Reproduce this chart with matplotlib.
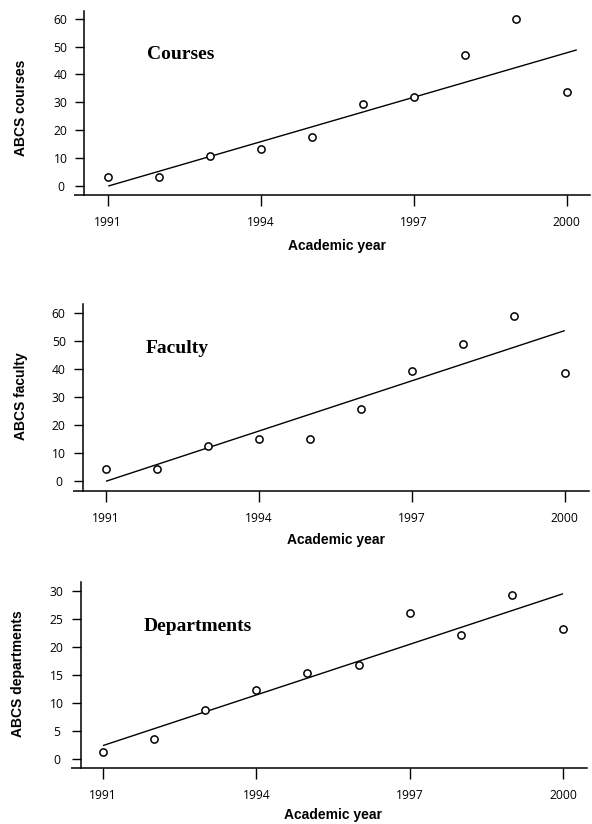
import matplotlib
matplotlib.use("Agg")
import matplotlib.pyplot as plt

# ---- data ----
years = [1991, 1992, 1993, 1994, 1995, 1996, 1997, 1998, 1999, 2000]
courses = [3.5, 3.3, 10.7, 13.3, 17.6, 29.3, 32.0, 47.1, 59.8, 33.8]
faculty = [4.2, 4.3, 12.5, 15.1, 14.9, 25.7, 39.4, 48.8, 58.8, 38.7]
departments = [1.25, 3.6, 8.8, 12.3, 15.4, 16.7, 26.1, 22.1, 29.3, 23.2]

# fitted trend lines (end points)
courses_trend_x = [1991.0, 2000.2]
courses_trend_y = [0.1, 48.8]
faculty_trend_x = [1991.0, 2000.0]
faculty_trend_y = [0.0, 53.7]
departments_trend_x = [1991.0, 2000.0]
departments_trend_y = [2.4, 29.5]

x_ticks = [1991, 1994, 1997, 2000]
courses_yticks = [0, 10, 20, 30, 40, 50, 60]
faculty_yticks = [0, 10, 20, 30, 40, 50, 60]
departments_yticks = [0, 5, 10, 15, 20, 25, 30]

panel_titles = ["Courses", "Faculty", "Departments"]
y_labels = ["ABCS courses", "ABCS faculty", "ABCS departments"]
x_label = "Academic year"

W, H = 592, 824
fig = plt.figure(figsize=(W / 100, H / 100), dpi=100)


def px_rect(left, right, top, bottom):
    return [left / W, 1 - bottom / H, (right - left) / W, (bottom - top) / H]


panels = [
    dict(rect=px_rect(84.3, 590, 11, 195), y=courses, tx=courses_trend_x, ty=courses_trend_y,
         yticks=courses_yticks, xlim=(1990.53, 2000.46), ylim=(-3.1, 62.7),
         title_pos=(1991.76, 47.3), ylab_pos=(21, 108), xlab_pos=(337, 246)),
    dict(rect=px_rect(82.5, 588.7, 304.5, 490.7), y=faculty, tx=faculty_trend_x, ty=faculty_trend_y,
         yticks=faculty_yticks, xlim=(1990.54, 2000.47), ylim=(-3.36, 63.0),
         title_pos=(1991.78, 47.2), ylab_pos=(21, 396), xlab_pos=(336, 540)),
    dict(rect=px_rect(80.5, 586.5, 582, 768.3), y=departments, tx=departments_trend_x,
         ty=departments_trend_y, yticks=departments_yticks, xlim=(1990.56, 2000.46),
         ylim=(-1.66, 31.6), title_pos=(1991.8, 23.6), ylab_pos=(18, 674), xlab_pos=(333, 815)),
]

tick_font = dict(family="Open Sans", size=8.7)

for i, p in enumerate(panels):
    ax = fig.add_axes(p["rect"])
    ax.plot(p["tx"], p["ty"], color="black", lw=1.0, solid_capstyle="butt")
    ax.plot(years, p["y"], linestyle="none", marker="o", ms=5.2, mfc="white",
            mec="black", mew=1.1)
    ax.set_xlim(*p["xlim"])
    ax.set_ylim(*p["ylim"])
    ax.set_xticks(x_ticks)
    ax.set_yticks(p["yticks"])
    ax.set_xticklabels([str(v) for v in x_ticks], fontdict=tick_font)
    ax.set_yticklabels([str(v) for v in p["yticks"]], fontdict=tick_font)
    for lab in ax.get_yticklabels():
        lab.set_ha("center")
    ax.tick_params(axis="x", direction="out", length=8, width=1.0, pad=7)
    ax.tick_params(axis="y", direction="out", length=6.8, width=1.0, pad=10.3)
    for s in ("top", "right"):
        ax.spines[s].set_visible(False)
    for s in ("left", "bottom"):
        ax.spines[s].set_linewidth(1.1)
    # bottom axis line extends a little to the left of the y axis
    w_px = p["rect"][2] * W
    ax.plot([-10 / w_px, 0], [0, 0], transform=ax.transAxes, color="black",
            lw=1.1, clip_on=False, solid_capstyle="butt")
    ax.text(p["title_pos"][0], p["title_pos"][1], panel_titles[i],
            family="Liberation Serif", weight="bold", size=14, ha="left", va="center")
    fig.text(p["ylab_pos"][0] / W, 1 - p["ylab_pos"][1] / H, y_labels[i],
             family="Liberation Sans", weight="bold", size=10, rotation=90,
             ha="center", va="center")
    fig.text(p["xlab_pos"][0] / W, 1 - p["xlab_pos"][1] / H, x_label,
             family="Liberation Sans", weight="bold", size=10, ha="center", va="center")

fig.savefig("out.png", dpi=100)
